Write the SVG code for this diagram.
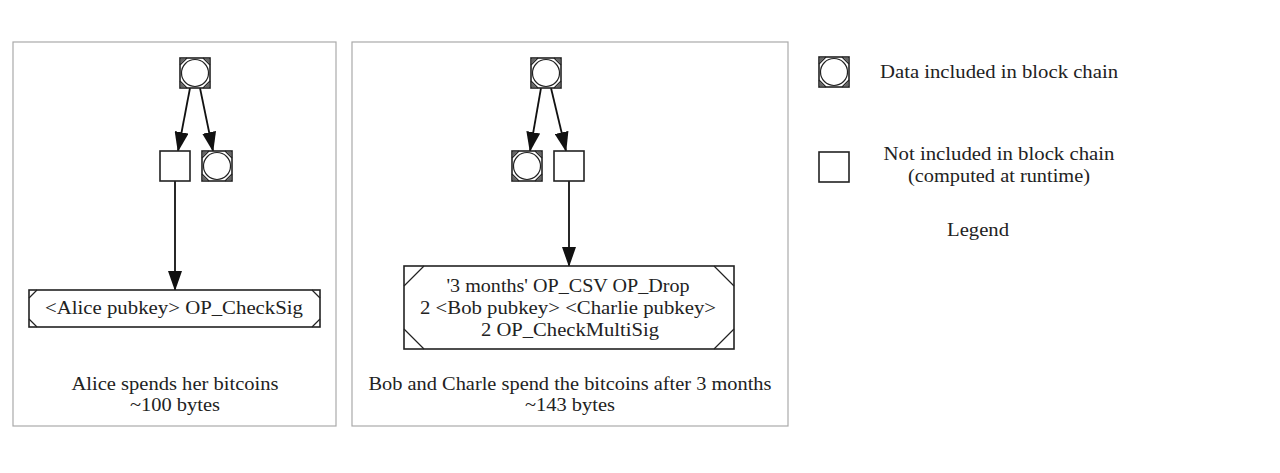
<svg xmlns="http://www.w3.org/2000/svg" width="1280" height="473" viewBox="0 0 1280 473">
<defs>
<style>
text{font-family:"Liberation Serif","Times New Roman",serif;font-size:18px;fill:#222;text-anchor:middle}
.panel{fill:#fff;stroke:#aaa;stroke-width:1.2}
.n{fill:#fff;stroke:#222;stroke-width:1.6}
.c{fill:none;stroke:#222;stroke-width:1.2}
.e{fill:none;stroke:#111;stroke-width:1.8}
</style>
<marker id="ah" markerWidth="20" markerHeight="14" refX="19" refY="7" orient="auto" markerUnits="userSpaceOnUse" viewBox="0 0 20 14">
<path d="M0,0 L20,7 L0,14 z" fill="#111"/>
</marker>
<g id="data">
<rect class="n" x="-15" y="-15" width="30" height="30"/>
<path class="c" d="M-8,-15 L-15,-8 M8,-15 L15,-8 M-8,15 L-15,8 M8,15 L15,8"/>
<path d="M-14,-14 L-14,-9.5 L-9.5,-14 z M14,-14 L9.5,-14 L14,-9.5 z M-14,14 L-9.5,14 L-14,9.5 z M14,14 L14,9.5 L9.5,14 z" fill="#666"/>
<circle class="c" r="13.5"/>
</g>
<g id="calc">
<rect class="n" x="-15" y="-15" width="30" height="30"/>
</g>
</defs>
<rect width="1280" height="473" fill="#fff"/>
<rect class="panel" x="13" y="42" width="323" height="384"/>
<rect class="panel" x="352" y="42" width="436" height="384"/>
<g id="connectors">
<line class="e" x1="190" y1="88" x2="178" y2="151" marker-end="url(#ah)"/>
<line class="e" x1="200" y1="88" x2="213" y2="151" marker-end="url(#ah)"/>
<line class="e" x1="175" y1="181" x2="175" y2="290" marker-end="url(#ah)"/>
<line class="e" x1="541" y1="88" x2="530" y2="151" marker-end="url(#ah)"/>
<line class="e" x1="551" y1="88" x2="566" y2="151" marker-end="url(#ah)"/>
<line class="e" x1="569" y1="181" x2="569" y2="266" marker-end="url(#ah)"/>
</g>
<g id="left-top"><use href="#data" x="195" y="73"/></g>
<g id="left-calc"><use href="#calc" x="175" y="166"/></g>
<g id="left-data"><use href="#data" x="217" y="166"/></g>
<g id="alice-script">
<rect class="n" x="29" y="290" width="291" height="37"/>
<path class="c" d="M37,290 L29,298 M312,290 L320,298 M37,327 L29,319 M312,327 L320,319"/>
<text x="174" y="314" textLength="258" lengthAdjust="spacingAndGlyphs">&lt;Alice pubkey&gt; OP_CheckSig</text>
</g>
<g id="alice-caption">
<text x="175" y="390" textLength="207" lengthAdjust="spacingAndGlyphs">Alice spends her bitcoins</text>
<text x="175" y="411" textLength="90" lengthAdjust="spacingAndGlyphs">~100 bytes</text>
</g>
<g id="mid-top"><use href="#data" x="546" y="73"/></g>
<g id="mid-data"><use href="#data" x="527" y="166"/></g>
<g id="mid-calc"><use href="#calc" x="569" y="166"/></g>
<g id="bob-script">
<rect class="n" x="404" y="266" width="330" height="83"/>
<path class="c" d="M424,266 L404,286 M714,266 L734,286 M424,349 L404,329 M714,349 L734,329"/>
<text x="568" y="292" textLength="243" lengthAdjust="spacingAndGlyphs">'3 months' OP_CSV OP_Drop</text>
<text x="568" y="314" textLength="296" lengthAdjust="spacingAndGlyphs">2 &lt;Bob pubkey&gt; &lt;Charlie pubkey&gt;</text>
<text x="570" y="336" textLength="178" lengthAdjust="spacingAndGlyphs">2 OP_CheckMultiSig</text>
</g>
<g id="bob-caption">
<text x="570" y="390" textLength="403" lengthAdjust="spacingAndGlyphs">Bob and Charle spend the bitcoins after 3 months</text>
<text x="570" y="411" textLength="90" lengthAdjust="spacingAndGlyphs">~143 bytes</text>
</g>
<g id="legend">
<use href="#data" x="834" y="72"/>
<text x="999" y="78" textLength="238" lengthAdjust="spacingAndGlyphs">Data included in block chain</text>
<use href="#calc" x="834" y="167"/>
<text x="999" y="160" textLength="231" lengthAdjust="spacingAndGlyphs">Not included in block chain</text>
<text x="999" y="182" textLength="182" lengthAdjust="spacingAndGlyphs">(computed at runtime)</text>
<text x="978" y="236" textLength="62" lengthAdjust="spacingAndGlyphs">Legend</text>
</g>
</svg>
